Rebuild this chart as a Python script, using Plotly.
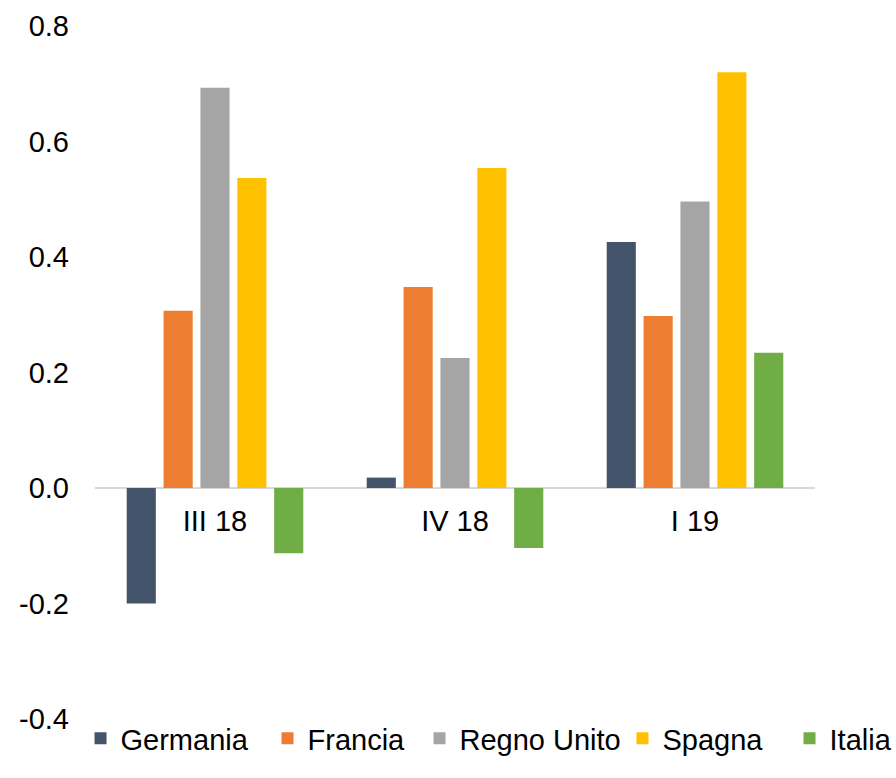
import plotly.graph_objects as go

# Quarterly values by country
quarters = ["III 18", "IV 18", "I 19"]
germania = [-0.200, 0.018, 0.426]
francia = [0.307, 0.348, 0.298]
regno_unito = [0.693, 0.225, 0.496]
spagna = [0.537, 0.554, 0.720]
italia = [-0.113, -0.104, 0.234]

# Value axis ticks (plain hyphen for negatives)
y_tick_values = [-0.4, -0.2, 0.0, 0.2, 0.4, 0.6, 0.8]
y_tick_labels = ["-0.4", "-0.2", "0.0", "0.2", "0.4", "0.6", "0.8"]

series = [
    ("Germania", germania, "#44546A"),
    ("Francia", francia, "#ED7D31"),
    ("Regno Unito", regno_unito, "#A5A5A5"),
    ("Spagna", spagna, "#FFC000"),
    ("Italia", italia, "#70AD47"),
]

# Horizontal anchor (paper fraction) of each legend entry along the bottom row
legend_x = [-0.0201, 0.2396, 0.4507, 0.7326, 0.9646]

font_family = "Liberation Sans, Arial, sans-serif"
fsize = 29

fig = go.Figure()
legend_layouts = {}
for i, ((name, vals, color), lx) in enumerate(zip(series, legend_x)):
    key = "legend" if i == 0 else f"legend{i + 1}"
    fig.add_trace(go.Bar(
        x=quarters, y=vals, name=name, legend=key,
        marker=dict(color=color, line=dict(width=0)),
    ))
    legend_layouts[key] = dict(
        orientation="h", x=lx, xanchor="left",
        y=-0.028, yanchor="middle",
        font=dict(family=font_family, size=fsize, color="#000000"),
        itemwidth=30, bgcolor="rgba(0,0,0,0)", borderwidth=0,
    )

fig.update_layout(
    width=896, height=778,
    margin=dict(l=95, r=81, t=26, b=59, autoexpand=False),
    paper_bgcolor="white", plot_bgcolor="white",
    barmode="group", bargap=0.232, bargroupgap=0.21,
    font=dict(family=font_family, size=fsize, color="#000000"),
    showlegend=True,
    xaxis=dict(
        anchor="free", position=1 / 3,
        showline=False, showgrid=False, zeroline=False,
        ticks="", ticklabelstandoff=13,
        tickfont=dict(size=fsize),
    ),
    yaxis=dict(
        range=[-0.4, 0.8],
        tickmode="array", tickvals=y_tick_values, ticktext=y_tick_labels,
        showgrid=False, showline=False,
        zeroline=True, zerolinecolor="#D9D9D9", zerolinewidth=1.5,
        ticks="", ticklabelstandoff=25,
        tickfont=dict(size=fsize),
    ),
    **legend_layouts,
)

fig.write_html("out.html")
